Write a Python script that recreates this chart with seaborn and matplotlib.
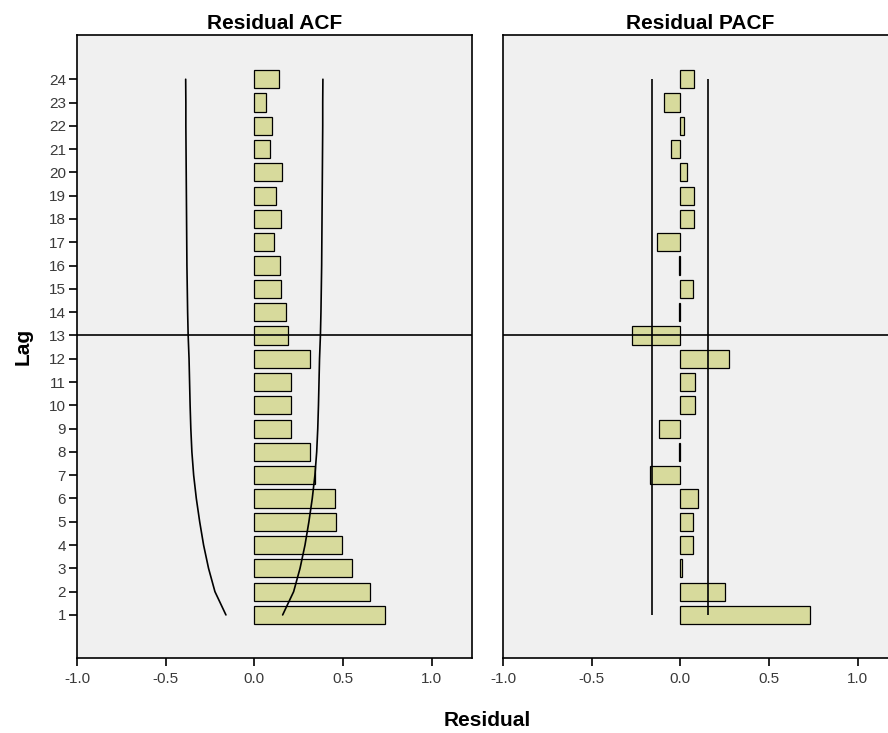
import numpy as np
import pandas as pd
import seaborn as sns
import matplotlib.pyplot as plt

# Residual ACF / PACF by lag
lags = list(range(1, 25))
acf_values = [0.735, 0.654, 0.549, 0.496, 0.461, 0.457, 0.340, 0.312, 0.205, 0.205,
              0.205, 0.312, 0.188, 0.179, 0.152, 0.143, 0.109, 0.152, 0.124, 0.156,
              0.090, 0.100, 0.066, 0.137]
pacf_values = [0.730, 0.254, 0.010, 0.073, 0.073, 0.101, -0.171, -0.005, -0.120, 0.085,
               0.081, 0.272, -0.270, -0.005, 0.070, -0.010, -0.130, 0.080, 0.080, 0.040,
               -0.055, 0.020, -0.090, 0.075]
# confidence limits
acf_upper = [0.160, 0.222, 0.258, 0.286, 0.308, 0.327, 0.342, 0.352, 0.358, 0.362,
             0.365, 0.368, 0.373, 0.376, 0.378, 0.380, 0.381, 0.382, 0.383, 0.384,
             0.385, 0.386, 0.386, 0.387]
acf_lower = [-0.160, -0.222, -0.258, -0.286, -0.308, -0.327, -0.342, -0.352, -0.358, -0.362,
             -0.365, -0.368, -0.373, -0.376, -0.378, -0.380, -0.381, -0.382, -0.383, -0.384,
             -0.385, -0.386, -0.386, -0.387]
pacf_upper = 0.158
pacf_lower = -0.158
x_ticks = [-1.0, -0.5, 0.0, 0.5, 1.0]

df = pd.DataFrame({"Lag": lags, "ACF": acf_values, "PACF": pacf_values})

sns.set_style("white")
plt.rcParams['font.family'] = ['Liberation Sans', 'DejaVu Sans']
plt.rcParams['text.color'] = 'black'

fig = plt.figure(figsize=(8.88, 7.33), dpi=100)
ax1 = fig.add_axes([77 / 888, 75 / 733, 395 / 888, 623 / 733])
ax2 = fig.add_axes([503 / 888, 75 / 733, 395 / 888, 623 / 733])

bar_color = "#d7da9c"

for ax, col, title in [(ax1, "ACF", "Residual ACF"), (ax2, "PACF", "Residual PACF")]:
    ax.set_facecolor("#f0f0f0")
    sns.barplot(data=df, x=col, y="Lag", orient="h", native_scale=True,
                color=bar_color, saturation=1, width=0.78,
                edgecolor="black", linewidth=0.9, ax=ax)
    ax.axhline(13, color="black", lw=1.2, zorder=4)
    ax.set_xlim(-1.0, 1.228)
    ax.set_ylim(-0.85, 25.9)
    ax.set_xticks(x_ticks)
    ax.set_xticklabels([f"{t:.1f}" for t in x_ticks], fontsize=11, color="#3a3a3a")
    ax.set_title(title, fontsize=15, fontweight="bold", pad=4, color="black")
    ax.set_xlabel("")
    ax.set_ylabel("")
    for s in ax.spines.values():
        s.set_color("black")
        s.set_linewidth(1.2)
    ax.tick_params(axis="x", direction="out", length=6, width=1.2, color="black",
                   bottom=True, pad=4)

# ACF confidence curves
sns.lineplot(x=acf_upper, y=lags, sort=False, estimator=None, color="black", lw=1.2, ax=ax1)
sns.lineplot(x=acf_lower, y=lags, sort=False, estimator=None, color="black", lw=1.2, ax=ax1)
ax1.set_yticks(lags)
ax1.set_yticklabels([str(l) for l in lags], fontsize=11, color="#3a3a3a")
ax1.tick_params(axis="y", direction="out", length=6, width=1.2, color="black",
                left=True, pad=2)
ax1.set_ylabel("Lag", fontsize=15, fontweight="bold", labelpad=12, color="black")

# PACF confidence limits
ax2.vlines([pacf_lower, pacf_upper], lags[0], lags[-1], color="black", lw=1.2, zorder=4)
ax2.set_yticks([])

fig.text(487 / 888, 1 - 720 / 733, "Residual", ha="center", va="center",
         fontsize=15, fontweight="bold", color="black")

plt.savefig("out.png", dpi=100)
